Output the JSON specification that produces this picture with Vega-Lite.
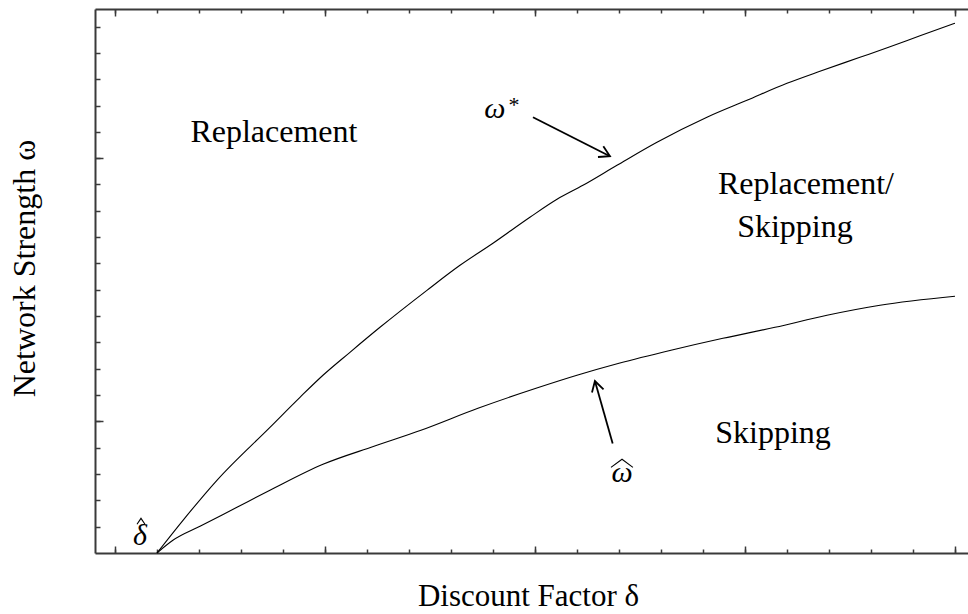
{
  "$schema": "https://vega.github.io/schema/vega-lite/v6.json",
  "width": 873,
  "height": 544,
  "autosize": {"type": "none"},
  "padding": {"left": 95, "top": 9, "right": 0, "bottom": 61},
  "background": "white",
  "config": {
    "view": {"stroke": null},
    "axis": {
      "labels": false,
      "grid": false,
      "domainColor": "#3a3a3a",
      "domainWidth": 2,
      "tickColor": "#3a3a3a",
      "tickWidth": 1.5,
      "titleFont": "Liberation Serif",
      "titleFontWeight": "normal",
      "titleColor": "#000000"
    },
    "text": {"font": "Liberation Serif", "color": "#000000"}
  },
  "datasets": {
    "curves": [
      {"curve": "omega_star", "delta": 0.24, "omega": 0.0},
      {"curve": "omega_star", "delta": 0.2648, "omega": 0.0497},
      {"curve": "omega_star", "delta": 0.2971, "omega": 0.1105},
      {"curve": "omega_star", "delta": 0.3476, "omega": 0.191},
      {"curve": "omega_star", "delta": 0.3762, "omega": 0.2366},
      {"curve": "omega_star", "delta": 0.3981, "omega": 0.2701},
      {"curve": "omega_star", "delta": 0.4238, "omega": 0.305},
      {"curve": "omega_star", "delta": 0.4524, "omega": 0.343},
      {"curve": "omega_star", "delta": 0.4971, "omega": 0.3992},
      {"curve": "omega_star", "delta": 0.5286, "omega": 0.4372},
      {"curve": "omega_star", "delta": 0.56, "omega": 0.4707},
      {"curve": "omega_star", "delta": 0.5952, "omega": 0.5102},
      {"curve": "omega_star", "delta": 0.621, "omega": 0.5375},
      {"curve": "omega_star", "delta": 0.6457, "omega": 0.5588},
      {"curve": "omega_star", "delta": 0.6781, "omega": 0.5892},
      {"curve": "omega_star", "delta": 0.7162, "omega": 0.6242},
      {"curve": "omega_star", "delta": 0.7638, "omega": 0.6622},
      {"curve": "omega_star", "delta": 0.8019, "omega": 0.688},
      {"curve": "omega_star", "delta": 0.84, "omega": 0.7138},
      {"curve": "omega_star", "delta": 0.8714, "omega": 0.7321},
      {"curve": "omega_star", "delta": 0.9095, "omega": 0.7533},
      {"curve": "omega_star", "delta": 0.9381, "omega": 0.7693},
      {"curve": "omega_star", "delta": 0.9667, "omega": 0.786},
      {"curve": "omega_star", "delta": 1.0, "omega": 0.805},
      {"curve": "omega_hat", "delta": 0.24, "omega": 0.0},
      {"curve": "omega_hat", "delta": 0.2552, "omega": 0.0193},
      {"curve": "omega_hat", "delta": 0.281, "omega": 0.0406},
      {"curve": "omega_hat", "delta": 0.3162, "omega": 0.0695},
      {"curve": "omega_hat", "delta": 0.3476, "omega": 0.0953},
      {"curve": "omega_hat", "delta": 0.3981, "omega": 0.1348},
      {"curve": "omega_hat", "delta": 0.4467, "omega": 0.1622},
      {"curve": "omega_hat", "delta": 0.4914, "omega": 0.1865},
      {"curve": "omega_hat", "delta": 0.5457, "omega": 0.2199},
      {"curve": "omega_hat", "delta": 0.601, "omega": 0.2503},
      {"curve": "omega_hat", "delta": 0.64, "omega": 0.2701},
      {"curve": "omega_hat", "delta": 0.68, "omega": 0.2883},
      {"curve": "omega_hat", "delta": 0.7295, "omega": 0.3081},
      {"curve": "omega_hat", "delta": 0.779, "omega": 0.3263},
      {"curve": "omega_hat", "delta": 0.8286, "omega": 0.343},
      {"curve": "omega_hat", "delta": 0.8781, "omega": 0.3613},
      {"curve": "omega_hat", "delta": 0.9286, "omega": 0.3765},
      {"curve": "omega_hat", "delta": 1.0, "omega": 0.3901}
    ],
    "arrows": [
      {"seg": "a1_shaft", "i": 0, "delta": 0.5981, "omega": 0.6622},
      {"seg": "a1_shaft", "i": 1, "delta": 0.6714, "omega": 0.6029},
      {"seg": "a1_head", "i": 0, "delta": 0.6651, "omega": 0.6181},
      {"seg": "a1_head", "i": 1, "delta": 0.6714, "omega": 0.6029},
      {"seg": "a1_head", "i": 2, "delta": 0.66, "omega": 0.6018},
      {"seg": "a2_shaft", "i": 0, "delta": 0.674, "omega": 0.1663},
      {"seg": "a2_shaft", "i": 1, "delta": 0.6571, "omega": 0.2614},
      {"seg": "a2_head", "i": 0, "delta": 0.6543, "omega": 0.2438},
      {"seg": "a2_head", "i": 1, "delta": 0.6571, "omega": 0.2614},
      {"seg": "a2_head", "i": 2, "delta": 0.6653, "omega": 0.2486}
    ],
    "hats": [
      {"seg": "omega_hat", "i": 0, "delta": 0.6724, "omega": 0.1302},
      {"seg": "omega_hat", "i": 1, "delta": 0.6829, "omega": 0.1424},
      {"seg": "omega_hat", "i": 2, "delta": 0.6933, "omega": 0.1302},
      {"seg": "delta_hat", "i": 0, "delta": 0.2210, "omega": 0.0436},
      {"seg": "delta_hat", "i": 1, "delta": 0.2248, "omega": 0.0527},
      {"seg": "delta_hat", "i": 2, "delta": 0.2286, "omega": 0.0436}
    ],
    "regions": [
      {"label": "Replacement", "delta": 0.3514, "omega": 0.6242},
      {"label": "Replacement/", "delta": 0.8581, "omega": 0.5452},
      {"label": "Skipping", "delta": 0.8476, "omega": 0.4798},
      {"label": "Skipping", "delta": 0.8267, "omega": 0.1667}
    ],
    "greek": [
      {"label": "ω", "delta": 0.5619, "omega": 0.6607},
      {"label": "ω", "delta": 0.6829, "omega": 0.1074},
      {"label": "δ", "delta": 0.2238, "omega": 0.0117}
    ],
    "star": [
      {"label": "*", "delta": 0.58, "omega": 0.6698}
    ]
  },
  "layer": [
    {
      "data": {"name": "curves"},
      "mark": {"type": "line", "color": "#000000", "strokeWidth": 1.1, "interpolate": "monotone"},
      "encoding": {
        "x": {
          "field": "delta", "type": "quantitative",
          "scale": {"domain": [0.181, 1.0124], "nice": false, "zero": false},
          "axis": {
            "orient": "bottom",
            "values": [0.2, 0.24, 0.28, 0.32, 0.36, 0.4, 0.44, 0.48, 0.52, 0.56, 0.6, 0.64, 0.68, 0.72, 0.76, 0.8, 0.84, 0.88, 0.92, 0.96, 1.0],
            "tickSize": -4,
            "title": "Discount Factor δ",
            "titleFontSize": 31,
            "titleX": 433,
            "titleY": 52,
            "titleAlign": "center",
            "titleBaseline": "alphabetic"
          }
        },
        "y": {
          "field": "omega", "type": "quantitative",
          "scale": {"domain": [0, 0.8267], "nice": false, "zero": false},
          "axis": {
            "orient": "left",
            "values": [0.04, 0.08, 0.12, 0.16, 0.2, 0.24, 0.28, 0.32, 0.36, 0.4, 0.44, 0.48, 0.52, 0.56, 0.6, 0.64, 0.68, 0.72, 0.76, 0.8],
            "tickSize": -5,
            "title": "Network Strength ω",
            "titleFontSize": 32,
            "titleAngle": -90,
            "titleX": -61,
            "titleY": 259,
            "titleAlign": "center",
            "titleBaseline": "alphabetic"
          }
        },
        "detail": {"field": "curve"}
      }
    },
    {
      "data": {"name": "arrows"},
      "mark": {"type": "line", "color": "#000000", "strokeWidth": 1.8},
      "encoding": {
        "x": {
          "field": "delta", "type": "quantitative",
          "scale": {"domain": [0.181, 1.0124], "nice": false, "zero": false},
          "axis": {
            "orient": "top",
            "values": [0.2, 0.24, 0.28, 0.32, 0.36, 0.4, 0.44, 0.48, 0.52, 0.56, 0.6, 0.64, 0.68, 0.72, 0.76, 0.8, 0.84, 0.88, 0.92, 0.96, 1.0],
            "tickSize": -4,
            "title": null
          }
        },
        "y": {
          "field": "omega", "type": "quantitative",
          "scale": {"domain": [0, 0.8267], "nice": false, "zero": false},
          "axis": null
        },
        "detail": {"field": "seg"},
        "order": {"field": "i"}
      }
    },
    {
      "data": {"name": "regions"},
      "mark": {"type": "text", "fontSize": 32, "align": "center", "baseline": "alphabetic"},
      "encoding": {
        "x": {
          "field": "delta", "type": "quantitative",
          "scale": {"domain": [0.181, 1.0124], "nice": false, "zero": false},
          "axis": {"orient": "bottom", "values": [0.2, 0.4, 0.6, 0.8, 1.0], "tickSize": -7, "domain": false, "title": null}
        },
        "y": {
          "field": "omega", "type": "quantitative",
          "scale": {"domain": [0, 0.8267], "nice": false, "zero": false},
          "axis": {"orient": "left", "values": [0.2, 0.6], "tickSize": -8, "domain": false, "title": null}
        },
        "text": {"field": "label"}
      }
    },
    {
      "data": {"name": "greek"},
      "mark": {"type": "text", "fontSize": 30, "fontStyle": "italic", "align": "center", "baseline": "alphabetic"},
      "encoding": {
        "x": {
          "field": "delta", "type": "quantitative",
          "scale": {"domain": [0.181, 1.0124], "nice": false, "zero": false},
          "axis": {"orient": "top", "values": [0.2, 0.4, 0.6, 0.8, 1.0], "tickSize": -7, "domain": false, "title": null}
        },
        "y": {
          "field": "omega", "type": "quantitative",
          "scale": {"domain": [0, 0.8267], "nice": false, "zero": false},
          "axis": null
        },
        "text": {"field": "label"}
      }
    },
    {
      "data": {"name": "star"},
      "mark": {"type": "text", "fontSize": 22, "align": "center", "baseline": "alphabetic"},
      "encoding": {
        "x": {
          "field": "delta", "type": "quantitative",
          "scale": {"domain": [0.181, 1.0124], "nice": false, "zero": false},
          "axis": null
        },
        "y": {
          "field": "omega", "type": "quantitative",
          "scale": {"domain": [0, 0.8267], "nice": false, "zero": false},
          "axis": null
        },
        "text": {"field": "label"}
      }
    },
    {
      "data": {"name": "hats"},
      "mark": {"type": "line", "color": "#000000", "strokeWidth": 1.1},
      "encoding": {
        "x": {
          "field": "delta", "type": "quantitative",
          "scale": {"domain": [0.181, 1.0124], "nice": false, "zero": false},
          "axis": null
        },
        "y": {
          "field": "omega", "type": "quantitative",
          "scale": {"domain": [0, 0.8267], "nice": false, "zero": false},
          "axis": null
        },
        "detail": {"field": "seg"},
        "order": {"field": "i"}
      }
    }
  ],
  "resolve": {"axis": {"x": "independent", "y": "independent"}}
}
